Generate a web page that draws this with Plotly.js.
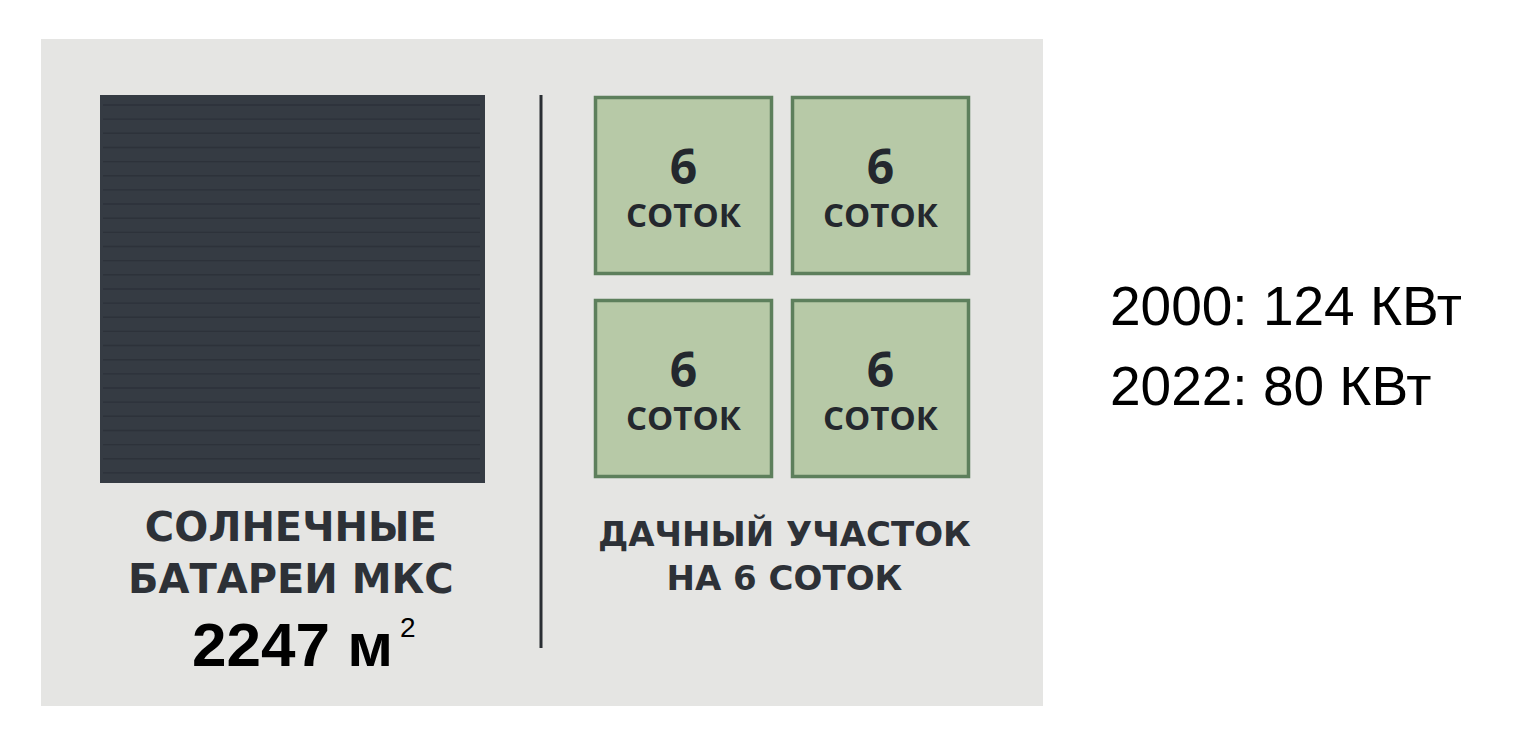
<!DOCTYPE html>
<html>
<head>
<meta charset="utf-8">
<script src="https://cdn.plot.ly/plotly-3.0.1.min.js"></script>
<style>
  html, body { margin: 0; padding: 0; background: #ffffff; }
  #myDiv { width: 1524px; height: 754px; }
</style>
</head>
<body>
<div id="myDiv"></div>
<script>
// values
const issLabel = ['СОЛНЕЧНЫЕ', 'БАТАРЕИ МКС'];
const issArea = 2247;          // m2
const plotLabel = ['ДАЧНЫЙ УЧАСТОК', 'НА 6 СОТОК'];
const plotSotki = [6, 6, 6, 6];  // four cells of 6 sotok
const plotUnit = 'СОТОК';
const years = [2000, 2022];
const powerKW = [124, 80];

// page coordinates in pixels (y down)
const W = 1524, H = 754;
const panel = [41, 39, 1043, 706];
const issBox = [100, 95, 485, 483];
const cellX = [594, 791];
const cellY = [96, 299];
const cellSize = 179;

const dark = '#24282e';
var shapes = [];

// grey panel
shapes.push({type: 'rect', x0: panel[0], x1: panel[2], y0: panel[1], y1: panel[3],
  fillcolor: '#e5e5e3', line: {width: 0}, layer: 'below'});

// solar panel square with stripes
shapes.push({type: 'rect', x0: issBox[0], x1: issBox[2], y0: issBox[1], y1: issBox[3],
  fillcolor: '#353b43', line: {width: 0}});
for (let y = issBox[1] + 10; y < issBox[3] - 4; y += 14.15) {
  shapes.push({type: 'line', x0: issBox[0] + 3, x1: issBox[2] - 5, y0: y, y1: y,
    line: {color: '#2d323a', width: 1.4}});
}

// divider
shapes.push({type: 'line', x0: 541, x1: 541, y0: 95, y1: 648,
  line: {color: '#2a2e33', width: 3}});

var annotations = [];
const ann = (x, y, text, family, size, color, weight) => ({
  x: x, y: y, xref: 'x', yref: 'y', text: text, showarrow: false,
  xanchor: 'center', yanchor: 'middle', align: 'center',
  font: {family: family, size: size, color: color, weight: weight}
});

// green cells
plotSotki.forEach((v, i) => {
  const x0 = cellX[i % 2], y0 = cellY[Math.floor(i / 2)];
  shapes.push({type: 'rect', x0: x0 + 1.5, x1: x0 + cellSize - 1.5,
    y0: y0 + 1.5, y1: y0 + cellSize - 1.5,
    fillcolor: '#b7c9a7', line: {color: '#5d7f5c', width: 3.5}});
  annotations.push(ann(x0 + cellSize / 2, y0 + 89,
    '<span style="font-size:48px">' + v + '</span><br>' + plotUnit,
    'Open Sans', 33, dark, 700));
});

// captions
annotations.push(ann(291, 553, issLabel.join('<br>'), 'DejaVu Sans', 40, '#2d3137', 700));
annotations.push(ann(292, 644, issArea + ' м', 'Liberation Sans', 62, '#000000', 700));
annotations.push(ann(408, 627, '2', 'Liberation Sans', 28, '#000000', 400));

annotations.push(ann(784, 556, plotLabel.join('<br>'), 'DejaVu Sans', 34, '#2d3137', 700));

// power text
years.forEach((yr, i) => {
  annotations.push({x: 1108, y: 306 + i * 80, xref: 'x', yref: 'y',
    text: yr + ': ' + powerKW[i] + ' КВт', showarrow: false,
    xanchor: 'left', yanchor: 'middle',
    font: {family: 'Liberation Sans', size: 55, color: '#000000'}});
});

var layout = {
  width: W, height: H,
  margin: {l: 0, r: 0, t: 0, b: 0},
  paper_bgcolor: '#ffffff', plot_bgcolor: '#ffffff',
  xaxis: {range: [0, W], visible: false, fixedrange: true},
  yaxis: {range: [H, 0], visible: false, fixedrange: true},
  showlegend: false,
  shapes: shapes,
  annotations: annotations
};

Plotly.newPlot('myDiv', [{x: [], y: [], type: 'scatter'}], layout, {displayModeBar: false, staticPlot: true});
</script>
</body>
</html>
